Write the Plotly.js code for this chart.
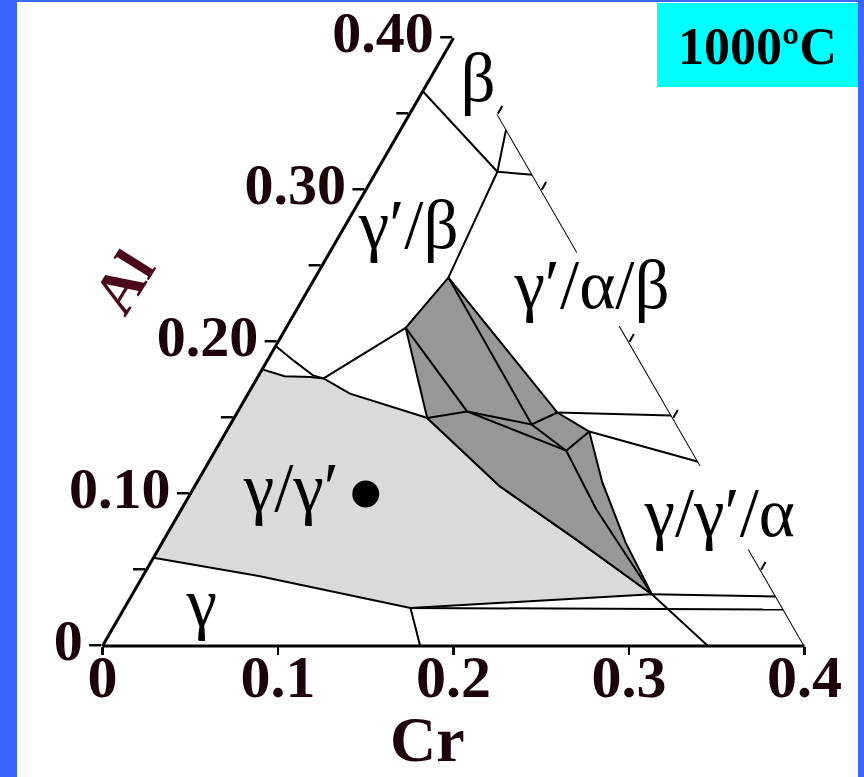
<!DOCTYPE html>
<html>
<head>
<meta charset="utf-8">
<script src="https://cdn.plot.ly/plotly-3.0.1.min.js"></script>
<style>
  html, body { margin: 0; padding: 0; background: #3d66ff; }
  #plot { width: 864px; height: 777px; }
</style>
</head>
<body>
<div id="plot"></div>
<script>
// Ni–Al–Cr isothermal section at 1000 °C, Ni-rich corner (mole fractions).
// Al is the a-axis, Ni the b-axis (>= 0.6) and Cr the c-axis.

// Axis ticks
const alTickVals = [0, 0.05, 0.10, 0.15, 0.20, 0.25, 0.30, 0.35, 0.40];
const alTickText = ['0', '', '0.10', '', '0.20', '', '0.30', '', '0.40'];
const crTickVals = [0, 0.1, 0.2, 0.3, 0.4];
const crTickText = ['0', '0.1', '0.2', '0.3', '0.4'];
const edgeTickCr = [0.05, 0.10, 0.20, 0.25, 0.35];

// γ/γ′ two-phase field (light grey)
const gg2Al = [0.058, 0.182, 0.1775, 0.177, 0.176, 0.166, 0.151, 0.150, 0.105, 0.070, 0.034, 0.025, 0.046, 0.058];
const gg2Cr = [0.000, 0.000, 0.015, 0.030, 0.038, 0.058, 0.107, 0.110, 0.174, 0.235, 0.296, 0.163, 0.066, 0.000];

// Three-phase tie-triangle band (dark grey)
const band3Al = [0.2424, 0.1536, 0.1411, 0.108, 0.068, 0.034, 0.070, 0.105, 0.150, 0.2093, 0.2424];
const band3Cr = [0.0759, 0.1824, 0.2068, 0.2307, 0.2641, 0.296, 0.235, 0.174, 0.110, 0.0681, 0.0759];

// Tie lines inside the band
const tieAAl = [0.2424, 0.1457, 0.1285];
const tieACr = [0.0759, 0.1717, 0.2000];
const tieBAl = [0.2093, 0.1543, 0.1285];
const tieBCr = [0.0681, 0.1306, 0.2000];
const tieCAl = [0.150, 0.1543, 0.1457, 0.1536];
const tieCCr = [0.110, 0.1306, 0.1717, 0.1824];
const tieDAl = [0.1285, 0.1411];
const tieDCr = [0.2000, 0.2068];
const tieEAl = [0.1285, 0.0901, 0.034];
const tieECr = [0.2000, 0.2362, 0.296];

// γ′/β boundary (lower) and β boundary
const gpbLowAl = [0.1974, 0.1874, 0.178, 0.176, 0.2093];
const gpbLowCr = [0.000, 0.0156, 0.031, 0.038, 0.0681];
const gpbHighAl = [0.312, 0.2424];
const gpbHighCr = [0.069, 0.0759];
const betaAl = [0.365, 0.312];
const betaCr = [0.000, 0.069];
const betaTieAl = [0.340, 0.312, 0.310];
const betaTieCr = [0.060, 0.069, 0.090];

// Lines running out to the Al–Cr side
const outBAl = [0.1536, 0.1517];
const outBCr = [0.1824, 0.2483];
const outCAl = [0.1411, 0.1212];
const outCCr = [0.2068, 0.2788];
const outVAl = [0.034, 0.0325];
const outVCr = [0.296, 0.3675];
const gammaLineAl = [0.025, 0.024];
const gammaLineCr = [0.163, 0.376];

// γ boundary and α boundary
const gammaAl = [0.025, 0.000];
const gammaCr = [0.163, 0.181];
const alphaAl = [0.034, 0.000];
const alphaCr = [0.296, 0.345];

// Pieces of the Ni = 0.6 side that are drawn (by Al content)
const sideSeg1Al = [0.350, 0.259];
const sideSeg2Al = [0.2106, 0.1185];
const sideSeg3Al = [0.0636, 0.000];

// Alloy composition marker
const alloyAl = [0.10];
const alloyCr = [0.10];

// Phase-field labels
const labelText = ['β', 'γ′/β', 'γ′/α/β', 'γ/γ′', 'γ/γ′/α', 'γ'];
const labelAl = [0.370, 0.2735, 0.2338, 0.100, 0.0834, 0.0245];
const labelCr = [0.029, 0.0377, 0.162, 0.0576, 0.310, 0.0443];

const BLACK = '#000000';
const TICK_INK = '#1c0208';
const serif = 'Liberation Serif, Times New Roman, serif';

function line(al, cr, w) {
  return {
    type: 'scatterternary', mode: 'lines', a: al, c: cr,
    line: { color: BLACK, width: w || 2 }, cliponaxis: false,
    hoverinfo: 'skip', showlegend: false
  };
}
function area(al, cr, fill) {
  return {
    type: 'scatterternary', mode: 'lines', a: al, c: cr, fill: 'toself',
    fillcolor: fill, line: { color: BLACK, width: 2 }, cliponaxis: false,
    hoverinfo: 'skip', showlegend: false
  };
}
const onSide = al => al.map(v => 0.4 - v);

const traces = [
  // hold the Cr scales that run along the bottom side of the triangle
  { type: 'scatter', x: [], y: [], xaxis: 'x', yaxis: 'y', hoverinfo: 'skip', showlegend: false },
  { type: 'scatter', x: [], y: [], xaxis: 'x2', yaxis: 'y', hoverinfo: 'skip', showlegend: false },
  area(gg2Al, gg2Cr, '#dadada'),
  area(band3Al, band3Cr, '#979797'),
  line(tieAAl, tieACr), line(tieBAl, tieBCr), line(tieCAl, tieCCr),
  line(tieDAl, tieDCr), line(tieEAl, tieECr),
  line(gpbLowAl, gpbLowCr), line(gpbHighAl, gpbHighCr),
  line(betaAl, betaCr), line(betaTieAl, betaTieCr),
  line(outBAl, outBCr), line(outCAl, outCCr), line(outVAl, outVCr),
  line(gammaLineAl, gammaLineCr), line(gammaAl, gammaCr), line(alphaAl, alphaCr),
  line(sideSeg1Al, onSide(sideSeg1Al)), line(sideSeg2Al, onSide(sideSeg2Al)),
  line(sideSeg3Al, onSide(sideSeg3Al)),
  {
    type: 'scatterternary', mode: 'markers', a: alloyAl, c: alloyCr,
    marker: { color: BLACK, size: 27 }, cliponaxis: false,
    hoverinfo: 'skip', showlegend: false
  },
  {
    type: 'scatterternary', mode: 'text', a: labelAl, c: labelCr, text: labelText,
    textposition: 'middle center', cliponaxis: false,
    textfont: { family: serif, size: 69, color: BLACK },
    hoverinfo: 'skip', showlegend: false
  }
];

const tickFont = { family: serif, size: 58, color: TICK_INK, weight: 'bold' };
const crTickFont = { family: serif, size: 60, color: TICK_INK, weight: 'bold' };
const W = 864, H = 777;
const px = x => x / W, py = y => 1 - y / H;

// Triangle placement: base from x = 102.5 to 804.5 px, base line at y = 646 px
const baseX0 = px(102.5), baseX1 = px(804.5), baseY = py(646);

const layout = {
  width: W, height: H,
  margin: { l: 0, r: 0, t: 0, b: 0 },
  paper_bgcolor: '#3d66ff',
  plot_bgcolor: 'rgba(0,0,0,0)',
  showlegend: false,
  ternary: {
    sum: 1,
    domain: { x: [baseX0, baseX1], y: [0.166023, 0.953668] },
    bgcolor: 'rgba(0,0,0,0)',
    aaxis: {
      min: 0, title: { text: '' },
      showline: true, linecolor: BLACK, linewidth: 3, showgrid: false,
      ticks: 'outside', ticklen: 12, tickwidth: 2.5, tickcolor: BLACK,
      tickmode: 'array', tickvals: alTickVals, ticktext: alTickText,
      tickfont: tickFont
    },
    baxis: {
      min: 0.6, title: { text: '' },
      showline: true, linecolor: BLACK, linewidth: 3, showgrid: false,
      ticks: '', showticklabels: false
    },
    caxis: {
      min: 0, title: { text: '' },
      showline: false, showgrid: false,
      ticks: 'outside', ticklen: 9, tickwidth: 2, tickcolor: BLACK,
      tickmode: 'array', tickvals: edgeTickCr, showticklabels: false
    }
  },
  // Cr tick marks on the base of the triangle
  xaxis: {
    domain: [baseX0, baseX1], range: [0, 0.4], anchor: 'free', position: baseY,
    showline: false, showgrid: false, zeroline: false, fixedrange: true,
    ticks: 'outside', ticklen: 8, tickwidth: 2.5, tickcolor: BLACK,
    tickmode: 'array', tickvals: crTickVals, showticklabels: false,
    title: { text: '' }
  },
  // Cr tick labels just under the base
  xaxis2: {
    domain: [baseX0, baseX1], range: [0, 0.4], anchor: 'free', position: py(636),
    showline: false, showgrid: false, zeroline: false, fixedrange: true,
    ticks: '', tickmode: 'array', tickvals: crTickVals, ticktext: crTickText,
    tickfont: crTickFont, title: { text: '' }
  },
  yaxis: {
    domain: [baseY, baseY + 0.03], range: [0, 1], visible: false, fixedrange: true
  },
  shapes: [
    { type: 'rect', xref: 'paper', yref: 'paper', layer: 'below',
      x0: px(17), x1: px(858), y0: 0, y1: py(2),
      fillcolor: '#ffffff', line: { width: 0 } },
    { type: 'rect', xref: 'paper', yref: 'paper', layer: 'above',
      x0: px(657), x1: px(858), y0: py(87), y1: py(3),
      fillcolor: '#00ffff', line: { width: 0 } }
  ],
  annotations: [
    { text: '1000ºC', xref: 'paper', yref: 'paper', x: px(757), y: py(46),
      showarrow: false, xanchor: 'center', yanchor: 'middle',
      font: { family: serif, size: 52, color: BLACK, weight: 'bold' } },
    { text: 'Al', xref: 'paper', yref: 'paper', x: px(124), y: py(282),
      showarrow: false, xanchor: 'center', yanchor: 'middle', textangle: -58,
      font: { family: serif, size: 60, color: '#4a0a1a', weight: 'bold' } },
    { text: 'Cr', xref: 'paper', yref: 'paper', x: px(427), y: py(739),
      showarrow: false, xanchor: 'center', yanchor: 'middle',
      font: { family: serif, size: 64, color: TICK_INK, weight: 'bold' } }
  ]
};

Plotly.newPlot('plot', traces, layout, { staticPlot: true, displayModeBar: false });
</script>
</body>
</html>
